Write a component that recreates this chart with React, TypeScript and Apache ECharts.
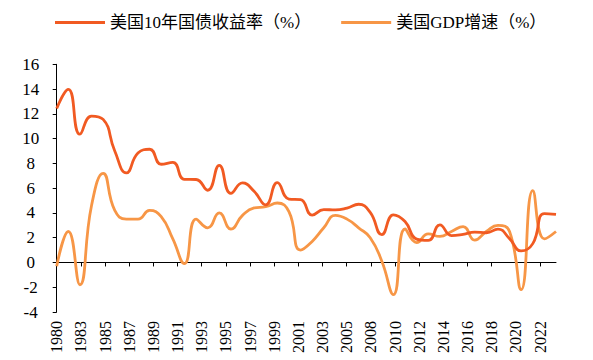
import React, { useEffect, useRef } from "react";
import * as echarts from "echarts";

const years: number[] = [
  1980, 1981, 1982, 1983, 1984, 1985, 1986, 1987, 1988, 1989, 1990, 1991, 1992, 1993, 1994,
  1995, 1996, 1997, 1998, 1999, 2000, 2001, 2002, 2003, 2004, 2005, 2006, 2007, 2008, 2009,
  2010, 2011, 2012, 2013, 2014, 2015, 2016, 2017, 2018, 2019, 2020, 2021, 2022, 2023,
];

const treasury10y: number[] = [
  12.43, 13.98, 10.36, 11.82, 11.55, 9.0, 7.23, 8.83, 9.14, 7.93, 8.08, 6.71, 6.7, 5.83, 7.84,
  5.58, 6.43, 5.75, 4.65, 6.45, 5.12, 5.07, 3.83, 4.27, 4.24, 4.39, 4.7, 4.04, 2.25, 3.85,
  3.3, 1.89, 1.78, 3.04, 2.17, 2.27, 2.45, 2.4, 2.69, 1.92, 0.93, 1.52, 3.95, 3.88,
];

const gdpGrowth: number[] = [
  -0.3, 2.5, -1.8, 4.6, 7.2, 4.2, 3.5, 3.5, 4.2, 3.7, 1.9, -0.1, 3.5, 2.8, 4.0,
  2.7, 3.8, 4.4, 4.5, 4.8, 4.1, 1.0, 1.7, 2.8, 3.8, 3.5, 2.8, 2.0, 0.1, -2.6,
  2.7, 1.6, 2.3, 2.1, 2.5, 2.9, 1.8, 2.5, 3.0, 2.5, -2.2, 5.8, 1.9, 2.5,
];

const tickLabels: string[] = [
  "1980", "1983", "1985", "1987", "1989", "1991", "1993", "1995", "1997", "1999", "2001",
  "2003", "2005", "2008", "2010", "2012", "2014", "2016", "2018", "2020", "2022",
];

const seriesNames: string[] = ["美国10年国债收益率（%）", "美国GDP增速（%）"];
const seriesColors: string[] = ["#F15A22", "#F79646"];

const yTicks = { min: -4, max: 16, step: 2 };

export default function App() {
  const ref = useRef<HTMLDivElement>(null);

  useEffect(() => {
    if (!ref.current) return;
    const chart = echarts.init(ref.current, undefined, { renderer: "svg" });
    const lastIdx = years.length - 1;
    const tickStep = 2.0814;
    const tickValues = tickLabels.map((_, k) => k * tickStep);
    const fmt = (v: number) => {
      const k = Math.round(v / tickStep);
      return tickLabels[k] ?? "";
    };
    const serif = '"Liberation Serif", "Times New Roman", "Noto Sans CJK SC", serif';

    chart.setOption({
      animation: false,
      backgroundColor: "#ffffff",
      grid: { left: 56.7, right: 37, top: 64.3, bottom: 48, containLabel: false },
      legend: {
        left: 50,
        top: 9,
        itemWidth: 50,
        itemHeight: 3,
        itemGap: 30,
        icon: "rect",
        textStyle: { fontFamily: serif, fontSize: 17, color: "#000" },
        data: seriesNames,
      },
      xAxis: [
        {
          type: "value",
          min: 0,
          max: lastIdx,
          position: "bottom",
          axisLine: { show: true, onZero: true, lineStyle: { color: "#000", width: 1 } },
          axisTick: { show: true, inside: false, length: 4, customValues: tickValues, lineStyle: { color: "#000" } },
          axisLabel: { show: false },
          splitLine: { show: false },
        },
        {
          type: "value",
          min: 0,
          max: lastIdx,
          position: "bottom",
          axisLine: { show: false, onZero: false },
          axisTick: { show: false },
          axisLabel: {
            show: true,
            customValues: tickValues,
            formatter: fmt,
            rotate: 90,
            margin: 9,
            fontFamily: serif,
            fontSize: 16,
            color: "#000",
          },
          splitLine: { show: false },
        },
      ],
      yAxis: {
        type: "value",
        min: yTicks.min,
        max: yTicks.max,
        interval: yTicks.step,
        axisLine: { show: true, lineStyle: { color: "#000", width: 1 } },
        axisTick: { show: true, inside: false, length: 4, lineStyle: { color: "#000" } },
        axisLabel: {
          fontFamily: serif,
          fontSize: 17,
          color: "#000",
          align: "center",
          margin: 26,
        },
        splitLine: { show: false },
      },
      series: [
        {
          name: seriesNames[0],
          type: "line",
          xAxisIndex: 0,
          data: treasury10y.map((v, i) => [i, v]),
          smooth: 0.5,
          symbol: "none",
          lineStyle: { color: seriesColors[0], width: 2.8 },
          itemStyle: { color: seriesColors[0] },
          z: 3,
        },
        {
          name: seriesNames[1],
          type: "line",
          xAxisIndex: 0,
          data: gdpGrowth.map((v, i) => [i, v]),
          smooth: 0.5,
          symbol: "none",
          lineStyle: { color: seriesColors[1], width: 2.8 },
          itemStyle: { color: seriesColors[1] },
          z: 2,
        },
      ],
    });
    return () => chart.dispose();
  }, []);

  return <div ref={ref} style={{ width: 593, height: 360, position: "absolute", left: 0, top: 0 }} />;
}
